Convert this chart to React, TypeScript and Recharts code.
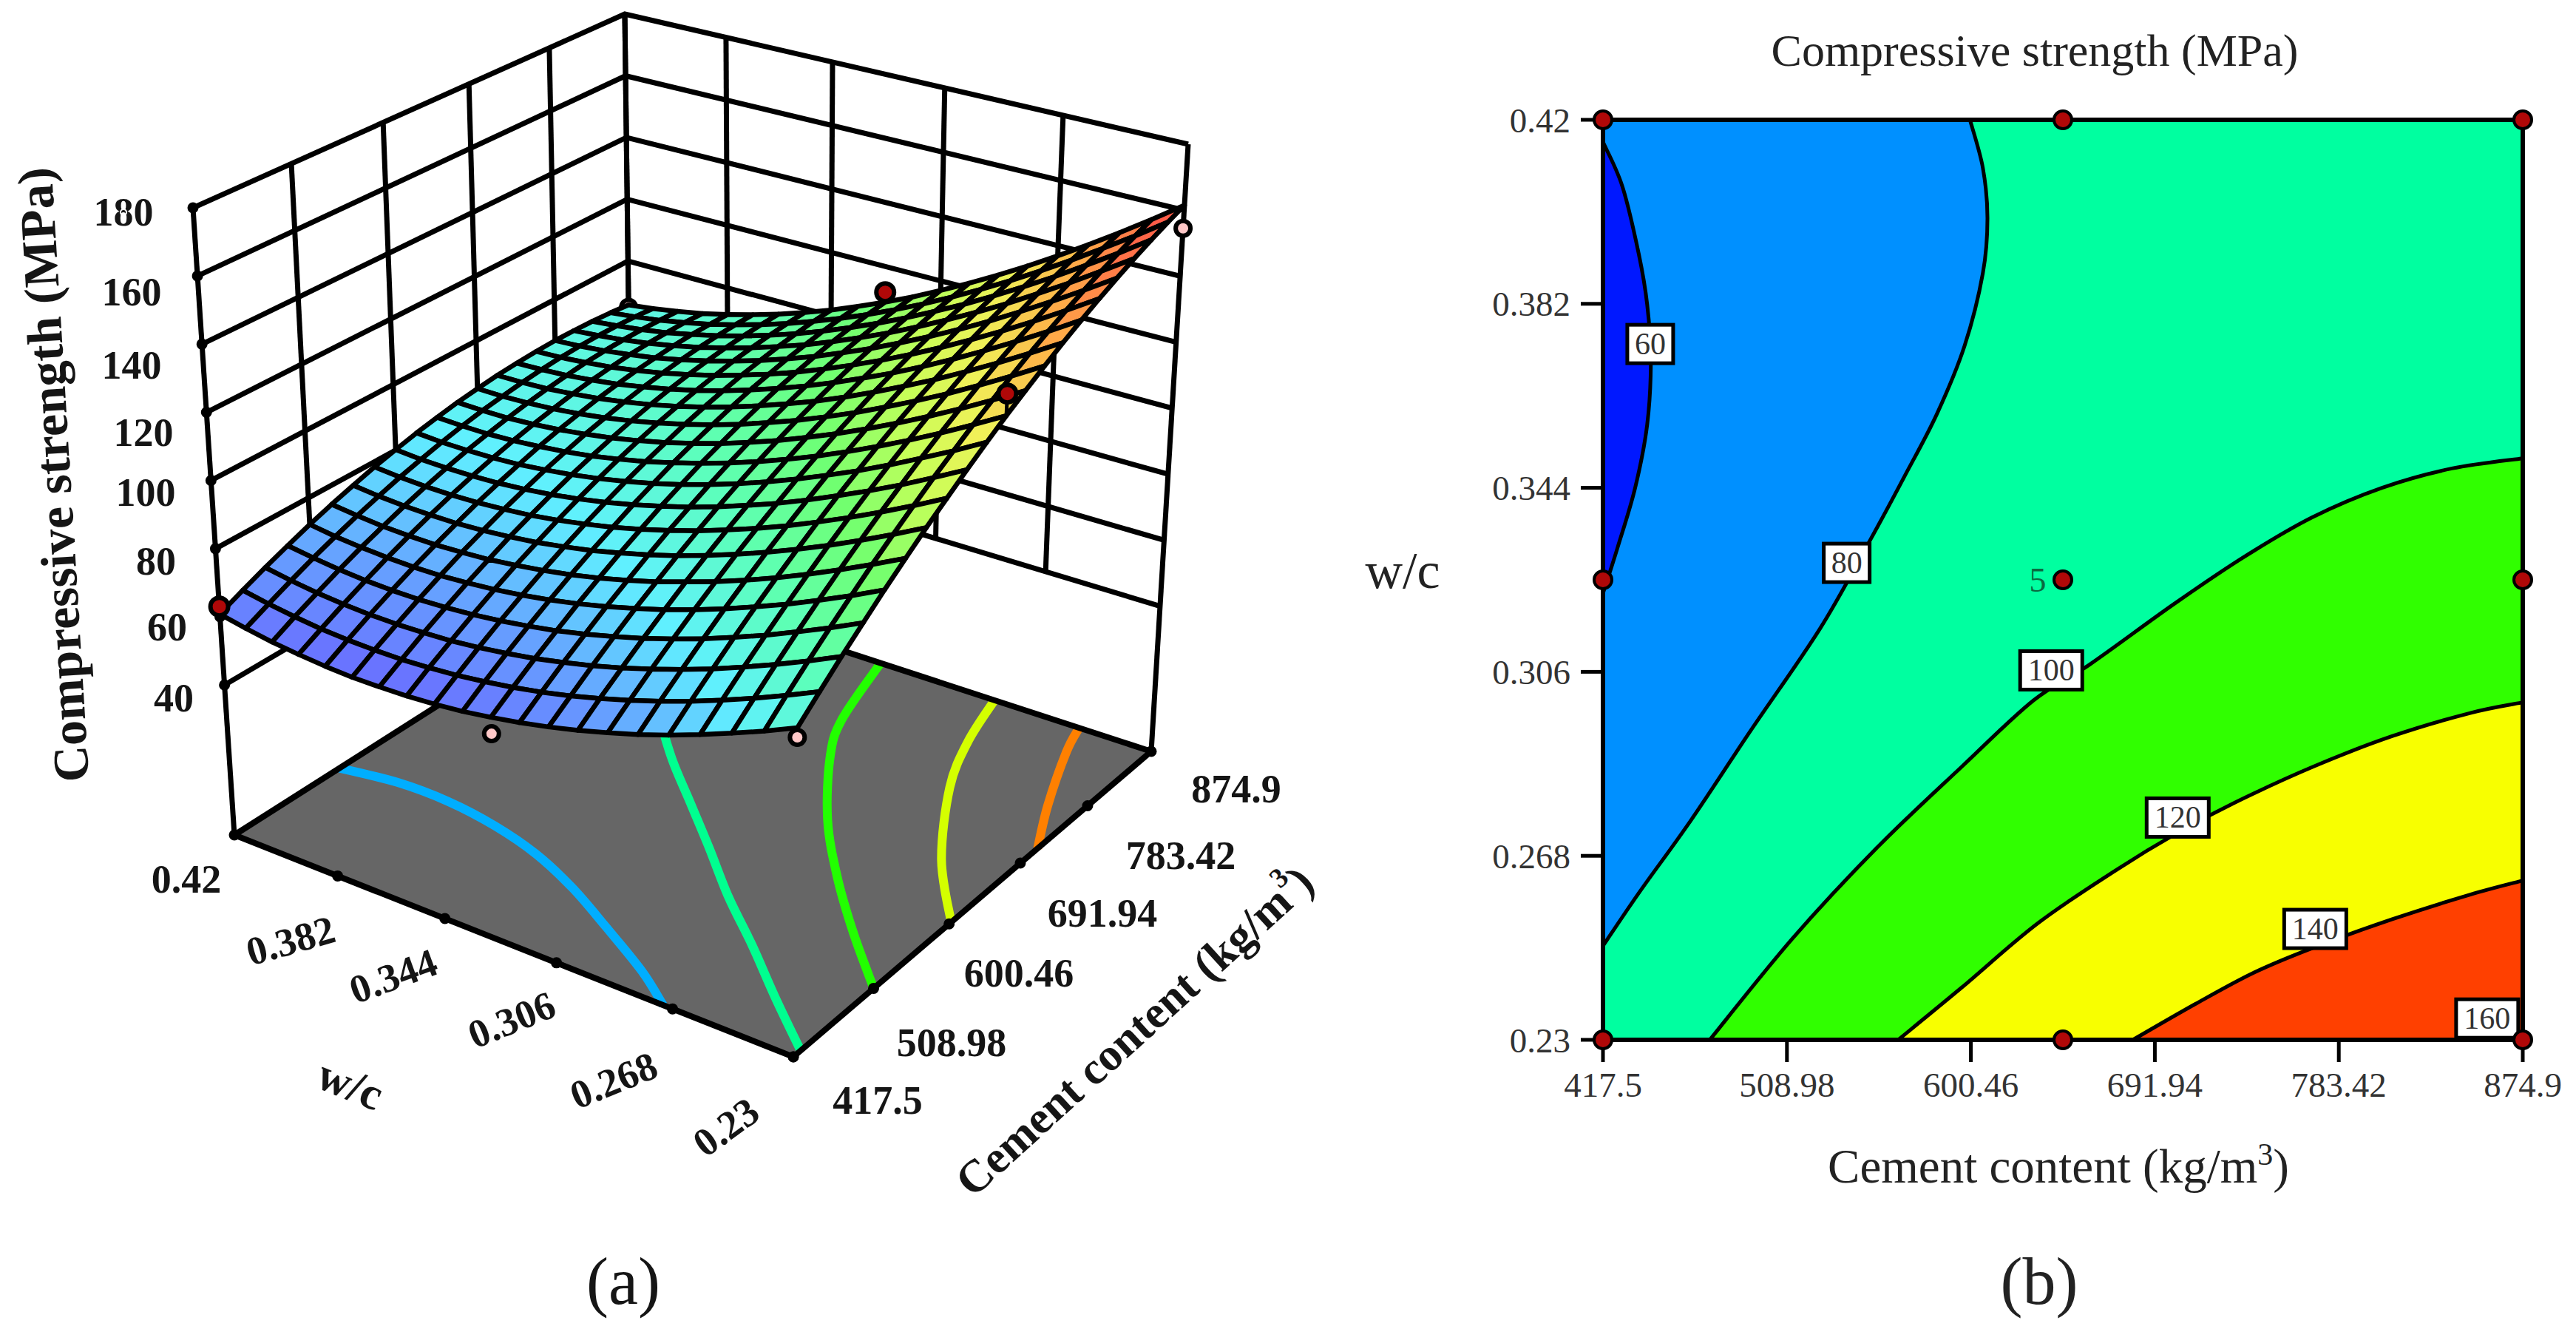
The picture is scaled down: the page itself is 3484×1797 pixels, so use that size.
import { ComposedChart, Line, Scatter, XAxis, YAxis, Customized } from "recharts";

// grid of the response surface
const cementLevels = [417.5, 440.37, 463.24, 486.11, 508.98, 531.85, 554.72, 577.59, 600.46, 623.33, 646.2, 669.07, 691.94, 714.81, 737.68, 760.55, 783.42, 806.29, 829.16, 852.03, 874.9];
const wcLevels = [0.23, 0.2395, 0.249, 0.2585, 0.268, 0.2775, 0.287, 0.2965, 0.306, 0.3155, 0.325, 0.3345, 0.344, 0.3535, 0.363, 0.3725, 0.382, 0.3915, 0.401, 0.4105, 0.42];
const strengthGrid = [
  [88.0, 93.5, 98.9, 104.0, 109.0, 113.7, 118.3, 122.6, 126.8, 130.8, 134.6, 138.1, 141.5, 144.7, 147.7, 150.5, 153.1, 155.5, 157.7, 159.7, 161.5],
  [83.8, 89.3, 94.5, 99.5, 104.3, 109.0, 113.4, 117.6, 121.7, 125.5, 129.2, 132.6, 135.9, 139.0, 141.8, 144.5, 147.0, 149.3, 151.3, 153.2, 154.9],
  [80.0, 85.3, 90.4, 95.3, 100.0, 104.5, 108.8, 112.9, 116.8, 120.6, 124.1, 127.4, 130.6, 133.5, 136.3, 138.8, 141.2, 143.3, 145.3, 147.1, 148.6],
  [76.4, 81.6, 86.6, 91.3, 95.9, 100.3, 104.5, 108.5, 112.3, 115.9, 119.3, 122.5, 125.5, 128.4, 131.0, 133.4, 135.7, 137.7, 139.5, 141.2, 142.6],
  [73.1, 78.2, 83.0, 87.7, 92.2, 96.4, 100.5, 104.4, 108.1, 111.5, 114.8, 117.9, 120.8, 123.5, 126.0, 128.3, 130.4, 132.3, 134.1, 135.6, 136.9],
  [70.1, 75.1, 79.8, 84.3, 88.7, 92.8, 96.8, 100.5, 104.1, 107.5, 110.6, 113.6, 116.4, 119.0, 121.3, 123.5, 125.5, 127.3, 128.9, 130.3, 131.5],
  [67.5, 72.3, 76.9, 81.3, 85.5, 89.5, 93.4, 97.0, 100.4, 103.7, 106.7, 109.6, 112.2, 114.7, 116.9, 119.0, 120.9, 122.6, 124.0, 125.3, 126.4],
  [65.1, 69.8, 74.2, 78.5, 82.6, 86.6, 90.3, 93.8, 97.1, 100.2, 103.1, 105.9, 108.4, 110.7, 112.9, 114.8, 116.6, 118.1, 119.5, 120.6, 121.6],
  [63.0, 67.5, 71.9, 76.1, 80.1, 83.8, 87.4, 90.8, 94.0, 97.0, 99.8, 102.4, 104.8, 107.0, 109.1, 110.9, 112.5, 113.9, 115.2, 116.2, 117.1],
  [61.2, 65.6, 69.9, 73.9, 77.8, 81.4, 84.9, 88.2, 91.2, 94.1, 96.8, 99.3, 101.6, 103.7, 105.6, 107.3, 108.8, 110.1, 111.2, 112.1, 112.8],
  [59.7, 64.0, 68.1, 72.0, 75.8, 79.3, 82.7, 85.8, 88.8, 91.5, 94.1, 96.4, 98.6, 100.6, 102.4, 103.9, 105.3, 106.5, 107.5, 108.3, 108.9],
  [58.4, 62.7, 66.7, 70.5, 74.1, 77.5, 80.7, 83.7, 86.6, 89.2, 91.7, 93.9, 95.9, 97.8, 99.5, 100.9, 102.2, 103.2, 104.1, 104.8, 105.3],
  [57.5, 61.6, 65.5, 69.2, 72.7, 76.0, 79.1, 82.0, 84.7, 87.2, 89.5, 91.6, 93.6, 95.3, 96.8, 98.2, 99.3, 100.3, 101.0, 101.6, 101.9],
  [56.9, 60.9, 64.6, 68.2, 71.6, 74.8, 77.7, 80.5, 83.1, 85.5, 87.7, 89.7, 91.5, 93.1, 94.5, 95.7, 96.8, 97.6, 98.2, 98.6, 98.9],
  [56.6, 60.4, 64.1, 67.5, 70.8, 73.8, 76.7, 79.3, 81.8, 84.1, 86.1, 88.0, 89.7, 91.2, 92.5, 93.6, 94.5, 95.2, 95.7, 96.0, 96.1],
  [56.5, 60.3, 63.8, 67.1, 70.2, 73.2, 75.9, 78.5, 80.8, 83.0, 84.9, 86.7, 88.2, 89.6, 90.8, 91.7, 92.5, 93.1, 93.5, 93.7, 93.7],
  [56.8, 60.4, 63.8, 67.0, 70.0, 72.8, 75.4, 77.9, 80.1, 82.1, 84.0, 85.6, 87.0, 88.3, 89.3, 90.2, 90.8, 91.3, 91.6, 91.6, 91.5],
  [57.4, 60.8, 64.1, 67.2, 70.1, 72.8, 75.3, 77.6, 79.7, 81.6, 83.3, 84.8, 86.1, 87.3, 88.2, 88.9, 89.5, 89.8, 89.9, 89.9, 89.6],
  [58.2, 61.6, 64.7, 67.7, 70.5, 73.0, 75.4, 77.6, 79.6, 81.4, 82.9, 84.3, 85.5, 86.5, 87.3, 88.0, 88.4, 88.6, 88.6, 88.4, 88.1],
  [59.4, 62.6, 65.6, 68.5, 71.1, 73.6, 75.8, 77.9, 79.7, 81.4, 82.9, 84.2, 85.2, 86.1, 86.8, 87.3, 87.6, 87.7, 87.6, 87.3, 86.8],
  [60.8, 63.9, 66.8, 69.5, 72.1, 74.4, 76.5, 78.5, 80.2, 81.8, 83.1, 84.3, 85.2, 86.0, 86.5, 86.9, 87.1, 87.0, 86.8, 86.4, 85.8],
];

const cementTicks = [417.5, 508.98, 600.46, 691.94, 783.42, 874.9];
const wcTicks = [0.23, 0.268, 0.306, 0.344, 0.382, 0.42];
const strengthTicks = [40, 60, 80, 100, 120, 140, 160, 180];
const floorStrength = -4;

// contour lines on the floor of the 3D box: [cement, w/c]
const floorLevels = [
  { color: "#00aeff", pts: [[417.5, 0.271], [441, 0.285], [470, 0.306], [495, 0.325], [515, 0.344], [528, 0.363], [535, 0.382], [535, 0.401], [527, 0.42]] },
  { color: "#00ff90", pts: [[425.6, 0.23], [465, 0.249], [506, 0.268], [545, 0.287], [588, 0.306], [630, 0.325], [672, 0.344], [720, 0.363], [775, 0.382]] },
  { color: "#22ff00", pts: [[509.1, 0.23], [555.8, 0.249], [606.6, 0.268], [664.3, 0.287], [736.9, 0.306], [787.2, 0.3155], [874.9, 0.325]] },
  { color: "#d4ff00", pts: [[603, 0.23], [665, 0.249], [750, 0.268], [812, 0.2775], [874.9, 0.284]] },
  { color: "#ff8000", pts: [[715, 0.23], [768, 0.2395], [840, 0.2505], [874.9, 0.2545]] },
];

// design points in the 3D view
const pointsBelow = [
  { cement: 874.9, wc: 0.23, strength: 154.5 },
  { cement: 874.9, wc: 0.42, strength: 85 },
  { cement: 417.5, wc: 0.325, strength: 55 },
  { cement: 417.5, wc: 0.23, strength: 85.3 },
];
const pointsAbove = [
  { cement: 417.5, wc: 0.42, strength: 63, surface: 60.8 },
  { cement: 874.9, wc: 0.325, strength: 112, surface: 108.9 },
  { cement: 646.2, wc: 0.23, strength: 141, surface: 134.6 },
];

// contour plot: cement and w/c along every line
const contour60Cement = [417.5, 427.1, 435.3, 439.5, 441.3, 439.5, 433.5, 424.8, 417.5];
const contour60Wc = [0.4154, 0.4063, 0.3923, 0.3818, 0.3704, 0.3571, 0.344, 0.3317, 0.3222];
const contour80Cement = [600.0, 606.4, 608.7, 606.4, 597.3, 583.5, 567.1, 550.1, 525.4, 490.7, 461.0, 435.8, 417.5];
const contour80Wc = [0.42, 0.4101, 0.3997, 0.3883, 0.3733, 0.3592, 0.3461, 0.333, 0.3149, 0.2937, 0.2752, 0.2606, 0.2494];
const contour100Cement = [470.6, 511.7, 553.8, 595.9, 631.6, 659.5, 701.1, 735.8, 770.2, 804.9, 839.7, 874.9];
const contour100Wc = [0.23, 0.2509, 0.2697, 0.2864, 0.3001, 0.3075, 0.3199, 0.3296, 0.3379, 0.344, 0.348, 0.3501];
const contour120Cement = [564.3, 595.9, 633.8, 673.2, 702.5, 731.7, 770.6, 809.9, 848.8, 874.9];
const contour120Wc = [0.23, 0.2408, 0.2541, 0.2652, 0.2726, 0.279, 0.2864, 0.2927, 0.2975, 0.2997];
const contour140Cement = [681, 712.1, 741.3, 770.6, 810, 848.8, 874.9];
const contour140Wc = [0.23, 0.2374, 0.2439, 0.249, 0.2549, 0.26, 0.2629];

const contourLabels = [
  { cement: 441, wc: 0.3737, text: "60" },
  { cement: 538.7, wc: 0.3285, text: "80" },
  { cement: 640.4, wc: 0.3063, text: "100" },
  { cement: 703.3, wc: 0.2759, text: "120" },
  { cement: 771.7, wc: 0.2529, text: "140" },
  { cement: 857.2, wc: 0.2344, text: "160" },
];
const designCement = [417.5, 646.2, 874.9];
const designWc = [0.42, 0.325, 0.23];

const SERIF = '"Liberation Serif", "Times New Roman", serif';
const W = 3484;
const H = 1797;
const LEFT_W = 1800;

// box corners on screen, (0,0) = low cement / low w/c
const floorQuad = makeQuad([1073, 1429], [1557, 1016], [855, 787], [317, 1129]);
const topQuad = makeQuad([1084, 539], [1607, 195], [845, 19], [261, 281]);

function makeQuad(p0: number[], p1: number[], p2: number[], p3: number[]) {
  const sx = p0[0] - p1[0] + p2[0] - p3[0];
  const sy = p0[1] - p1[1] + p2[1] - p3[1];
  const dx1 = p1[0] - p2[0];
  const dx2 = p3[0] - p2[0];
  const dy1 = p1[1] - p2[1];
  const dy2 = p3[1] - p2[1];
  const den = dx1 * dy2 - dx2 * dy1;
  const g = (sx * dy2 - dx2 * sy) / den;
  const h = (dx1 * sy - sx * dy1) / den;
  const a = p1[0] - p0[0] + g * p1[0];
  const b = p3[0] - p0[0] + h * p3[0];
  const d = p1[1] - p0[1] + g * p1[1];
  const e = p3[1] - p0[1] + h * p3[1];
  return (s: number, t: number) => {
    const w = g * s + h * t + 1;
    return [(a * s + b * t + p0[0]) / w, (d * s + e * t + p0[1]) / w];
  };
}

function project(cement: number, wc: number, strength: number) {
  const s = (cement - 417.5) / 457.4;
  const t = (wc - 0.23) / 0.19;
  const h = (strength - floorStrength) / (180 - floorStrength);
  const f = floorQuad(s, t);
  const u = topQuad(s, t);
  return { sx: f[0] + (u[0] - f[0]) * h, sy: f[1] + (u[1] - f[1]) * h };
}

const colorStops: [number, number[]][] = [
  [56, [106, 106, 255]],
  [69, [102, 160, 255]],
  [82, [96, 240, 255]],
  [95, [92, 255, 184]],
  [108, [112, 255, 112]],
  [120, [200, 255, 88]],
  [130, [240, 240, 88]],
  [142, [255, 176, 72]],
  [161, [255, 72, 72]],
];

function surfaceColor(z: number) {
  for (let i = 1; i < colorStops.length; i++) {
    if (z <= colorStops[i][0]) {
      const [z0, c0] = colorStops[i - 1];
      const [z1, c1] = colorStops[i];
      const k = Math.max(0, (z - z0) / (z1 - z0));
      return `rgb(${c0.map((c, n) => Math.round(c + (c1[n] - c) * k)).join(",")})`;
    }
  }
  return "rgb(255,72,72)";
}

// far cells first so the near ones paint over them
const surfaceCells: any[] = [];
for (let r = wcLevels.length - 2; r >= 0; r--) {
  for (let c = cementLevels.length - 2; c >= 0; c--) {
    const z = (strengthGrid[r][c] + strengthGrid[r][c + 1] + strengthGrid[r + 1][c] + strengthGrid[r + 1][c + 1]) / 4;
    const fill = surfaceColor(z);
    const corners = [[r, c], [r, c + 1], [r + 1, c + 1], [r + 1, c]];
    corners.forEach(([a, b]) => surfaceCells.push({ ...project(cementLevels[b], wcLevels[a], strengthGrid[a][b]), fill }));
  }
}

const wallLines: any[][] = [];
strengthTicks.forEach((z) => {
  wallLines.push([project(417.5, 0.42, z), project(874.9, 0.42, z), project(874.9, 0.23, z)]);
});
cementTicks.forEach((c) => {
  const low = c === 417.5 || c === 874.9 ? floorStrength : 40;
  wallLines.push([project(c, 0.42, low), project(c, 0.42, 180)]);
});
wcTicks.forEach((w) => {
  const low = w === 0.23 ? floorStrength : 40;
  wallLines.push([project(874.9, w, low), project(874.9, w, 180)]);
});

const floorOutline = [
  project(417.5, 0.23, floorStrength),
  project(874.9, 0.23, floorStrength),
  project(874.9, 0.42, floorStrength),
  project(417.5, 0.42, floorStrength),
];
const axisNubs = [
  ...wcTicks.map((w) => project(417.5, w, floorStrength)),
  ...cementTicks.map((c) => project(c, 0.23, floorStrength)),
  ...strengthTicks.map((z) => project(417.5, 0.42, z)),
];

// text of the 3D panel, centred on these screen spots
const label3d = [
  ...strengthTicks.map((z, i) => ({
    text: String(z),
    sx: [235, 226, 211, 197, 194, 178, 178, 167][i],
    sy: [944, 848, 759, 666, 585, 494, 395, 287][i],
    rotate: 0,
  })),
  ...wcTicks.map((w, i) => ({
    text: String(w),
    sx: [982, 830, 692, 532, 393, 252][i],
    sy: [1524, 1461, 1379, 1320, 1272, 1189][i],
    rotate: [-36, -22, -22, -20, -16, 0][i],
  })),
  ...cementTicks.map((c, i) => ({
    text: String(c),
    sx: [1187, 1287, 1378, 1491, 1597, 1672][i],
    sy: [1488, 1410, 1316, 1235, 1157, 1067][i],
    rotate: 0,
  })),
];

// catmull-rom through the first n points, straight lines after that
function smoothPath(pts: any[], n: number) {
  let d = `M${pts[0].x},${pts[0].y}`;
  for (let i = 1; i < pts.length; i++) {
    if (i < n) {
      const p0 = pts[Math.max(i - 2, 0)];
      const p1 = pts[i - 1];
      const p2 = pts[i];
      const p3 = pts[Math.min(i + 1, n - 1)];
      d += `C${p1.x + (p2.x - p0.x) / 6},${p1.y + (p2.y - p0.y) / 6} ${p2.x - (p3.x - p1.x) / 6},${p2.y - (p3.y - p1.y) / 6} ${p2.x},${p2.y}`;
    } else {
      d += `L${pts[i].x},${pts[i].y}`;
    }
  }
  return d;
}

// Line hands every dot the scaled points, so shapes can use the chart's own scales
const polygonDot = (fill: string, stroke: string, strokeWidth: number, smooth = 0) => (props: any) => {
  if (props.index !== 0) return <g key={props.key} />;
  return (
    <path key={props.key} d={smoothPath(props.points, smooth) + "Z"} fill={fill} stroke={stroke} strokeWidth={strokeWidth} strokeLinejoin="round" />
  );
};

const strokeDot = (stroke: string, strokeWidth: number, smooth = 0) => (props: any) => {
  if (props.index !== 0) return <g key={props.key} />;
  return <path key={props.key} d={smoothPath(props.points, smooth)} fill="none" stroke={stroke} strokeWidth={strokeWidth} />;
};

const cellDot = (props: any) => {
  if (props.index % 4 !== 0) return <g key={props.key} />;
  const d = smoothPath(props.points.slice(props.index, props.index + 4), 0) + "Z";
  return <path key={props.key} d={d} fill={props.payload.fill} stroke="#000" strokeWidth={6.5} strokeLinejoin="round" />;
};

const circleDot = (fill: string, r: number, strokeWidth: number) => (props: any) => (
  <circle key={props.key} cx={props.cx} cy={props.cy} r={r} fill={fill} stroke="#000" strokeWidth={strokeWidth} />
);

const labelDot = (props: any) => (
  <text
    key={props.key}
    x={props.cx}
    y={props.cy}
    transform={`rotate(${props.payload.rotate} ${props.cx} ${props.cy})`}
    textAnchor="middle"
    dominantBaseline="central"
    fontFamily={SERIF}
    fontWeight="bold"
    fontSize={54}
    fill="#151515"
  >
    {props.payload.text}
  </text>
);

function Titles3d() {
  return (
    <g fontFamily={SERIF} fontWeight="bold" fill="#151515" textAnchor="middle">
      <text transform="translate(72 642) rotate(-93.5)" fontSize={68} dominantBaseline="central">
        Compressive strength (MPa)
      </text>
      <text transform="translate(474 1466) rotate(22)" fontSize={62} dominantBaseline="central">
        w/c
      </text>
      <text transform="translate(1534 1394) rotate(-42.3)" fontSize={62} dominantBaseline="central">
        Cement content (kg/m
        <tspan fontSize={38} dy={-22}>3</tspan>
        <tspan dy={22}>)</tspan>
      </text>
      <text x={843} y={1763} fontSize={90} fontWeight="normal">
        (a)
      </text>
    </g>
  );
}

function TitlesContour() {
  return (
    <g fontFamily={SERIF} fill="#222" textAnchor="middle">
      <text x={2752 - LEFT_W} y={89} fontSize={62}>
        Compressive strength (MPa)
      </text>
      <text x={2784 - LEFT_W} y={1599} fontSize={65}>
        Cement content (kg/m
        <tspan fontSize={42} dy={-24}>3</tspan>
        <tspan dy={24}>)</tspan>
      </text>
      <text x={1897 - LEFT_W} y={795} fontSize={70}>
        w/c
      </text>
      <text x={2758 - LEFT_W} y={1763} fontSize={90}>
        (b)
      </text>
    </g>
  );
}

function toPoints(cement: number[], wc: number[]) {
  return cement.map((c, i) => ({ cement: c, wc: wc[i] }));
}

const plotCorners = toPoints([417.5, 874.9, 874.9, 417.5], [0.42, 0.42, 0.23, 0.23]);
const contourRegions = [
  { fill: "#0090ff", smooth: 0, pts: plotCorners },
  { fill: "#0018ff", smooth: contour60Cement.length, pts: toPoints(contour60Cement, contour60Wc) },
  { fill: "#00ffa0", smooth: contour80Cement.length, pts: [...toPoints(contour80Cement, contour80Wc), { cement: 417.5, wc: 0.23 }, { cement: 874.9, wc: 0.23 }, { cement: 874.9, wc: 0.42 }] },
  { fill: "#30ff00", smooth: contour100Cement.length, pts: [...toPoints(contour100Cement, contour100Wc), { cement: 874.9, wc: 0.23 }] },
  { fill: "#f8ff00", smooth: contour120Cement.length, pts: [...toPoints(contour120Cement, contour120Wc), { cement: 874.9, wc: 0.23 }] },
  { fill: "#ff4000", smooth: contour140Cement.length, pts: [...toPoints(contour140Cement, contour140Wc), { cement: 874.9, wc: 0.23 }] },
];
const contourLines = [
  toPoints(contour60Cement, contour60Wc),
  toPoints(contour80Cement, contour80Wc),
  toPoints(contour100Cement, contour100Wc),
  toPoints(contour120Cement, contour120Wc),
  toPoints(contour140Cement, contour140Wc),
];
const designPoints = designWc.flatMap((wc) => designCement.map((cement) => ({ cement, wc })));

const ContourTag = (props: any) => {
  const wide = props.payload.text.length > 2;
  const w = wide ? 84 : 62;
  return (
    <g>
      <rect x={props.cx - w / 2} y={props.cy - 26} width={w} height={52} fill="#fff" stroke="#000" strokeWidth={5} />
      <text x={props.cx} y={props.cy + 14} textAnchor="middle" fontFamily={SERIF} fontSize={42} fill="#333">
        {props.payload.text}
      </text>
    </g>
  );
};

const DesignDot = (props: any) => (
  <g>
    <circle cx={props.cx} cy={props.cy} r={12} fill="#b00808" stroke="#000" strokeWidth={4} />
    {props.payload.cement === 646.2 && props.payload.wc === 0.325 ? (
      <text x={props.cx - 34} y={props.cy + 16} textAnchor="middle" fontFamily={SERIF} fontSize={46} fill="#0a6a40">
        5
      </text>
    ) : null}
  </g>
);

const tickFont = { fontFamily: SERIF, fontSize: 47, fill: "#333" };

export default function App() {
  return (
    <div style={{ position: "absolute", left: 0, top: 0, width: W, height: H, background: "#fff" }}>
      <div style={{ position: "absolute", left: 0, top: 0 }}>
        <ComposedChart width={LEFT_W} height={H} margin={{ top: 0, right: 0, bottom: 0, left: 0 }}>
          <XAxis type="number" dataKey="sx" domain={[0, LEFT_W]} hide />
          <YAxis type="number" dataKey="sy" domain={[0, H]} reversed hide />
          {wallLines.map((pts, i) => (
            <Line key={`wall${i}`} data={pts} dataKey="sy" stroke="#000" strokeWidth={7} dot={false} isAnimationActive={false} />
          ))}
          <Line data={floorOutline} dataKey="sy" stroke="none" dot={polygonDot("#666666", "none", 0)} isAnimationActive={false} />
          {floorLevels.map((level, i) => (
            <Line
              key={`level${i}`}
              data={level.pts.map(([c, w]) => project(c, w, floorStrength))}
              dataKey="sy"
              stroke="none"
              dot={strokeDot(level.color, 12, level.pts.length)}
              isAnimationActive={false}
            />
          ))}
          <Line data={floorOutline} dataKey="sy" stroke="none" dot={polygonDot("none", "#000", 8)} isAnimationActive={false} />
          <Line data={axisNubs} dataKey="sy" stroke="none" dot={circleDot("#000", 6, 3)} isAnimationActive={false} />
          <Line
            data={pointsBelow.map((p) => project(p.cement, p.wc, p.strength))}
            dataKey="sy"
            stroke="none"
            dot={circleDot("#ffc8c8", 10, 6)}
            isAnimationActive={false}
          />
          <Line data={surfaceCells} dataKey="sy" stroke="none" dot={cellDot} isAnimationActive={false} />
          {pointsAbove.map((p, i) => (
            <Line
              key={`stem${i}`}
              data={[project(p.cement, p.wc, p.surface), project(p.cement, p.wc, p.strength)]}
              dataKey="sy"
              stroke="none"
              dot={strokeDot("#000", 5)}
              isAnimationActive={false}
            />
          ))}
          <Line
            data={pointsAbove.map((p) => project(p.cement, p.wc, p.strength))}
            dataKey="sy"
            stroke="none"
            dot={circleDot("#b00808", 12, 6)}
            isAnimationActive={false}
          />
          <Line data={label3d} dataKey="sy" stroke="none" dot={labelDot} isAnimationActive={false} />
          <Customized component={Titles3d} />
        </ComposedChart>
      </div>
      <div style={{ position: "absolute", left: LEFT_W, top: 0 }}>
        <ComposedChart width={W - LEFT_W} height={H} margin={{ top: 162, right: 72, bottom: 291, left: 218 }}>
          <XAxis
            type="number"
            dataKey="cement"
            domain={[417.5, 874.9]}
            ticks={cementTicks}
            interval={0}
            height={100}
            tick={tickFont}
            tickSize={30}
            tickMargin={14}
            stroke="#000"
            strokeWidth={5}
            tickLine={{ stroke: "#000", strokeWidth: 5 }}
          />
          <YAxis
            type="number"
            dataKey="wc"
            domain={[0.23, 0.42]}
            ticks={wcTicks}
            interval={0}
            width={150}
            tick={tickFont}
            tickSize={30}
            tickMargin={14}
            stroke="#000"
            strokeWidth={5}
            tickLine={{ stroke: "#000", strokeWidth: 5 }}
          />
          {contourRegions.map((region, i) => (
            <Line key={`region${i}`} data={region.pts} dataKey="wc" stroke="none" dot={polygonDot(region.fill, "none", 0, region.smooth)} isAnimationActive={false} />
          ))}
          {contourLines.map((pts, i) => (
            <Line key={`contour${i}`} data={pts} dataKey="wc" stroke="none" dot={strokeDot("#000", 5, pts.length)} isAnimationActive={false} />
          ))}
          <Line data={plotCorners} dataKey="wc" stroke="none" dot={polygonDot("none", "#000", 6)} isAnimationActive={false} />
          <Scatter data={contourLabels} dataKey="wc" shape={ContourTag} isAnimationActive={false} />
          <Scatter data={designPoints} dataKey="wc" shape={DesignDot} isAnimationActive={false} />
          <Customized component={TitlesContour} />
        </ComposedChart>
      </div>
    </div>
  );
}
